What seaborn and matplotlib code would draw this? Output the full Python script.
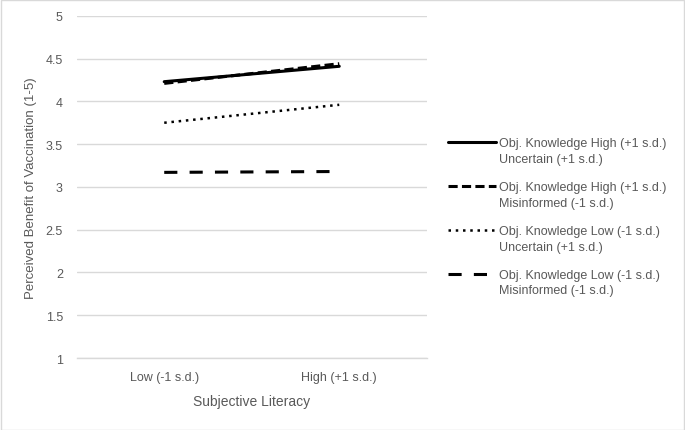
import matplotlib
matplotlib.use("Agg")
import matplotlib.pyplot as plt
import matplotlib.patches as mpatches
from matplotlib.legend_handler import HandlerLine2D
from matplotlib.lines import Line2D
import seaborn as sns

# Data
categories = ["Low (-1 s.d.)", "High (+1 s.d.)"]
high_uncertain = [4.23, 4.41]
high_misinformed = [4.21, 4.44]
low_uncertain = [3.75, 3.96]
low_misinformed = [3.17, 3.18]
series_labels = [
    "Obj. Knowledge High (+1 s.d.)\nUncertain (+1 s.d.)",
    "Obj. Knowledge High (+1 s.d.)\nMisinformed (-1 s.d.)",
    "Obj. Knowledge Low (-1 s.d.)\nUncertain (+1 s.d.)",
    "Obj. Knowledge Low (-1 s.d.)\nMisinformed (-1 s.d.)",
]
y_ticks = [1, 1.5, 2, 2.5, 3, 3.5, 4, 4.5, 5]

sns.set_theme(style="white")
plt.rcParams["font.family"] = ["Liberation Sans", "DejaVu Sans"]

grey = "#595959"
fig = plt.figure(figsize=(6.85, 4.31), dpi=100)
ax = fig.add_axes([0.112, 0.167, 0.511, 0.794])

styles = [
    dict(linewidth=2.2, linestyle="-"),
    dict(linewidth=2.2, linestyle=(0, (3.0, 1.4))),
    dict(linewidth=1.8, linestyle=(0, (1.0, 1.9))),
    dict(linewidth=2.2, linestyle=(0, (4.3, 4.0))),
]
all_series = [high_uncertain, high_misinformed, low_uncertain, low_misinformed]

for vals, lab, st in zip(all_series, series_labels, styles):
    sns.lineplot(x=categories, y=vals, ax=ax, color="black", label=lab,
                 sort=False, **st)

ax.set_xlim(-0.5, 1.5)
ax.set_ylim(1, 5)
ax.set_yticks(y_ticks)
ax.set_yticklabels([f"{t:g}" for t in y_ticks])
ax.yaxis.grid(True, color="#d9d9d9", linewidth=1)
ax.set_axisbelow(True)
for s in ["top", "right", "left"]:
    ax.spines[s].set_visible(False)
ax.spines["bottom"].set_color("#d9d9d9")
ax.spines["bottom"].set_linewidth(1)
ax.tick_params(axis="both", length=0, labelsize=9, colors=grey, pad=9)
ax.tick_params(axis="y", pad=10)

ax.set_xlabel("Subjective Literacy", fontsize=10, color=grey, labelpad=8)
ax.set_ylabel("Perceived Benefit of Vaccination (1-5)", fontsize=9.5,
              color=grey, labelpad=6)


# legend handle sits next to the first line of each label (Excel style)
class FirstLineHandler(HandlerLine2D):
    def create_artists(self, legend, orig_handle, xdescent, ydescent,
                       width, height, fontsize, trans):
        artists = super().create_artists(legend, orig_handle, xdescent,
                                         ydescent, width, height, fontsize,
                                         trans)
        for a in artists:
            if isinstance(a, Line2D):
                a.set_ydata([y + fontsize * 0.72 for y in a.get_ydata()])
        return artists


handles, labels = ax.get_legend_handles_labels()
leg = ax.legend(handles, labels, loc="upper left",
                bbox_to_anchor=(1.061, 0.645), frameon=False,
                fontsize=9, handlelength=3.8, handletextpad=0.25,
                labelspacing=1.3, borderaxespad=0, borderpad=0,
                handler_map={Line2D: FirstLineHandler()})
for t in leg.get_texts():
    t.set_color(grey)
    t.set_linespacing(1.4)

# chart border
fig.patches.append(mpatches.Rectangle((0.001, 0.001), 0.998, 0.997,
                                      transform=fig.transFigure, fill=False,
                                      edgecolor="#d9d9d9", linewidth=1))

fig.savefig("out.png", dpi=100)
